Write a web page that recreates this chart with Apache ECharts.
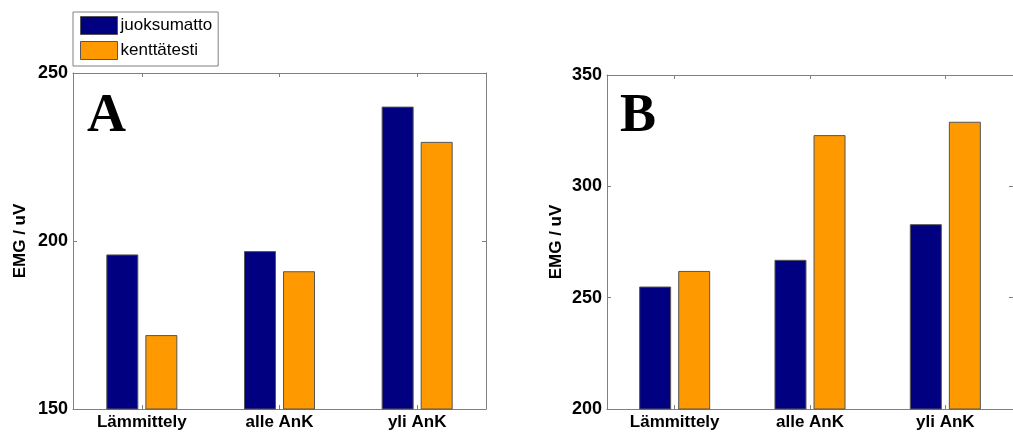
<!DOCTYPE html>
<html>
<head>
<meta charset="utf-8">
<script src="https://cdn.jsdelivr.net/npm/echarts@6/dist/echarts.min.js"></script>
<style>
html,body{margin:0;padding:0;background:#fff;}
#chart{width:1013px;height:432px;}
</style>
</head>
<body>
<div id="chart"></div>
<script>
const categories = ['Lämmittely', 'alle AnK', 'yli AnK'];
const seriesNames = ['juoksumatto', 'kenttätesti'];
const panelA_juoksumatto = [196, 197, 240];
const panelA_kenttatesti = [172, 191, 229.5];
const panelB_juoksumatto = [255, 267, 283];
const panelB_kenttatesti = [262, 323, 329];
const yTicksA = { min: 150, max: 250, interval: 50 };
const yTicksB = { min: 200, max: 350, interval: 50 };
const yName = 'EMG / uV';

const colors = ['#000080', '#ff9900'];
const frameColor = '#808080';
const labelFont = { color: '#000', fontFamily: 'Liberation Sans', fontWeight: 'bold' };

function xAxes(gridIndex) {
  return [
    {
      type: 'category', gridIndex: gridIndex, data: categories, position: 'bottom',
      axisLine: { show: true, lineStyle: { color: frameColor } },
      axisTick: { show: true, inside: true, alignWithLabel: true, length: 4, lineStyle: { color: frameColor } },
      axisLabel: Object.assign({ fontSize: 17, margin: 5 }, labelFont),
      splitLine: { show: false }
    },
    {
      type: 'category', gridIndex: gridIndex, data: categories, position: 'top',
      axisLine: { show: true, lineStyle: { color: frameColor } },
      axisTick: { show: true, inside: true, alignWithLabel: true, length: 4, lineStyle: { color: frameColor } },
      axisLabel: { show: false },
      splitLine: { show: false }
    }
  ];
}
function yAxes(gridIndex, t, nameGap) {
  return [
    {
      type: 'value', gridIndex: gridIndex, min: t.min, max: t.max, interval: t.interval, position: 'left',
      name: yName, nameLocation: 'middle', nameRotate: 90, nameGap: nameGap,
      nameTextStyle: Object.assign({ fontSize: 17 }, labelFont),
      axisLine: { show: true, lineStyle: { color: frameColor } },
      axisTick: { show: true, inside: true, length: 4, lineStyle: { color: frameColor } },
      axisLabel: Object.assign({ fontSize: 18, margin: 5 }, labelFont),
      splitLine: { show: false }
    },
    {
      type: 'value', gridIndex: gridIndex, min: t.min, max: t.max, interval: t.interval, position: 'right',
      axisLine: { show: true, lineStyle: { color: frameColor } },
      axisTick: { show: true, inside: true, length: 4, lineStyle: { color: frameColor } },
      axisLabel: { show: false },
      splitLine: { show: false }
    }
  ];
}
function bar(name, data, xi, yi, ci) {
  return {
    type: 'bar', name: name, data: data, xAxisIndex: xi, yAxisIndex: yi,
    barWidth: 32, barGap: '22%',
    itemStyle: { color: colors[ci], borderColor: '#555', borderWidth: 1 }
  };
}

const chart = echarts.init(document.getElementById('chart'), null, { renderer: 'canvas' });
chart.setOption({
  animation: false,
  backgroundColor: '#fff',
  title: [
    { text: 'A', left: 82, top: 85, textStyle: { fontFamily: 'Liberation Serif', fontWeight: 'bold', fontSize: 54, color: '#000' } },
    { text: 'B', left: 615, top: 85, textStyle: { fontFamily: 'Liberation Serif', fontWeight: 'bold', fontSize: 54, color: '#000' } }
  ],
  legend: {
    data: seriesNames, orient: 'vertical', left: 73, top: 12,
    itemWidth: 37, itemHeight: 18, itemGap: 6,
    padding: [4, 6, 6, 7],
    borderColor: '#808080', borderWidth: 1,
    textStyle: { fontFamily: 'Liberation Sans', fontSize: 17, color: '#000', padding: [0, 0, 0, -2] },
    icon: 'rect',
    itemStyle: { borderColor: '#555', borderWidth: 1 }
  },
  grid: [
    { left: 73, top: 73, width: 413, bottom: 23, containLabel: false },
    { left: 607, top: 75, right: -10, bottom: 23, containLabel: false }
  ],
  xAxis: xAxes(0).concat(xAxes(1)),
  yAxis: yAxes(0, yTicksA, 44).concat(yAxes(1, yTicksB, 42)),
  series: [
    bar(seriesNames[0], panelA_juoksumatto, 0, 0, 0),
    bar(seriesNames[1], panelA_kenttatesti, 0, 0, 1),
    bar(seriesNames[0], panelB_juoksumatto, 2, 2, 0),
    bar(seriesNames[1], panelB_kenttatesti, 2, 2, 1)
  ]
});
</script>
</body>
</html>
